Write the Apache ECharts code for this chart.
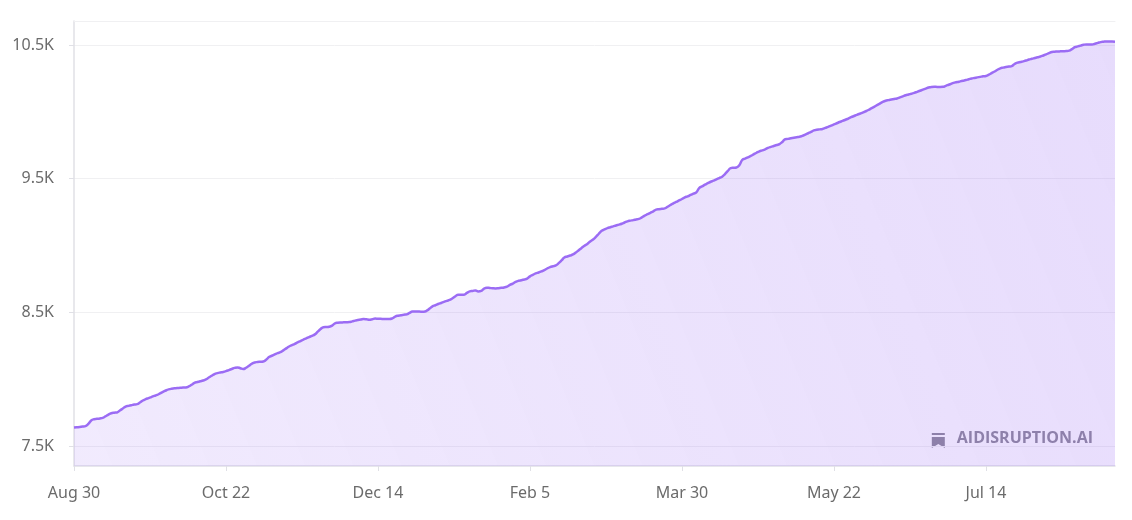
<!DOCTYPE html>
<html>
<head>
<meta charset="utf-8">
<script src="https://cdn.jsdelivr.net/npm/echarts@6/dist/echarts.min.js"></script>
<style>
  html, body { margin: 0; padding: 0; background: #fff; }
  #chart { width: 1132px; height: 520px; }
</style>
</head>
<body>
<div id="chart"></div>
<script>
// daily totals, Aug 30 -> Aug 28 (364 days)
var startDate = [2022, 7, 30];
var dayCount = 364;
var values = [
    7638, 7640, 7642, 7645, 7649, 7665, 7690, 7700, 7703, 7706,
    7710, 7722, 7735, 7745, 7749, 7751, 7765, 7780, 7795, 7800,
    7805, 7810, 7813, 7825, 7840, 7850, 7858, 7866, 7875, 7882,
    7893, 7905, 7915, 7923, 7928, 7931, 7934, 7935, 7937, 7938,
    7945, 7958, 7972, 7978, 7984, 7990, 7998, 8012, 8025, 8038,
    8045, 8050, 8054, 8060, 8068, 8076, 8084, 8088, 8082, 8076,
    8085, 8100, 8115, 8125, 8128, 8130, 8132, 8145, 8165, 8175,
    8185, 8195, 8202, 8215, 8230, 8244, 8254, 8264, 8275, 8285,
    8296, 8305, 8315, 8324, 8335, 8355, 8375, 8388, 8390, 8392,
    8400, 8418, 8422, 8424, 8425, 8426, 8427, 8432, 8438, 8442,
    8446, 8450, 8448, 8444, 8448, 8453, 8452, 8451, 8450, 8450,
    8450, 8455, 8468, 8475, 8478, 8482, 8485, 8495, 8506, 8507,
    8506, 8505, 8505, 8512, 8528, 8545, 8553, 8562, 8570, 8578,
    8586, 8593, 8605, 8620, 8632, 8632, 8632, 8645, 8657, 8660,
    8664, 8656, 8660, 8678, 8684, 8682, 8680, 8679, 8681, 8684,
    8686, 8692, 8705, 8715, 8728, 8736, 8740, 8746, 8752, 8769,
    8780, 8791, 8798, 8806, 8815, 8828, 8838, 8845, 8851, 8868,
    8888, 8910, 8918, 8925, 8933, 8948, 8965, 8982, 8998, 9012,
    9030, 9045, 9065, 9088, 9110, 9120, 9130, 9137, 9143, 9150,
    9156, 9163, 9172, 9181, 9186, 9190, 9195, 9199, 9210, 9224,
    9234, 9245, 9256, 9268, 9272, 9275, 9278, 9290, 9303, 9316,
    9326, 9337, 9348, 9360, 9368, 9378, 9388, 9398, 9430, 9442,
    9455, 9466, 9477, 9485, 9495, 9505, 9515, 9535, 9558, 9579,
    9582, 9584, 9600, 9640, 9650, 9660, 9670, 9682, 9694, 9705,
    9712, 9720, 9730, 9738, 9745, 9752, 9759, 9775, 9795, 9798,
    9802, 9806, 9810, 9814, 9820, 9830, 9840, 9850, 9862, 9866,
    9869, 9872, 9880, 9888, 9897, 9906, 9915, 9924, 9932, 9941,
    9950, 9960, 9969, 9978, 9986, 9995, 10004, 10014, 10026, 10038,
    10050, 10062, 10074, 10083, 10088, 10092, 10096, 10100, 10108, 10116,
    10124, 10130, 10136, 10142, 10150, 10158, 10166, 10174, 10182, 10187,
    10188, 10187, 10187, 10188, 10195, 10203, 10211, 10219, 10223, 10228,
    10233, 10238, 10244, 10250, 10254, 10258, 10262, 10266, 10269, 10278,
    10290, 10302, 10315, 10326, 10331, 10335, 10339, 10343, 10358, 10368,
    10373, 10378, 10384, 10392, 10397, 10403, 10409, 10414, 10422, 10430,
    10440, 10448, 10450, 10452, 10453, 10454, 10455, 10458, 10470, 10484,
    10490, 10496, 10502, 10505, 10505, 10505, 10510, 10516, 10522, 10525,
    10527, 10527, 10526, 10525
];
var yTicks = [7500, 8500, 9500, 10500];
var monthNames = ['Jan', 'Feb', 'Mar', 'Apr', 'May', 'Jun', 'Jul', 'Aug', 'Sep', 'Oct', 'Nov', 'Dec'];

var dates = [];
for (let i = 0; i < dayCount; i++) {
    let d = new Date(startDate[0], startDate[1], startDate[2] + i);
    dates.push(monthNames[d.getMonth()] + ' ' + d.getDate());
}

var labelFont = {
    color: '#6b6b6b',
    fontSize: 16,
    fontFamily: 'Noto Sans'
};

var chart = echarts.init(document.getElementById('chart'), null, { renderer: 'canvas' });
chart.setOption({
    animation: false,
    grid: {
        left: 74,
        right: 17,
        top: 21,
        bottom: 54
    },
    xAxis: [{
        type: 'category',
        data: dates,
        boundaryGap: false,
        axisLine: { lineStyle: { color: '#e0e0e6', width: 1.5 } },
        axisTick: { interval: 52, length: 5, lineStyle: { color: '#e0e0e6' } },
        axisLabel: Object.assign({ interval: 52, margin: 19 }, labelFont),
        splitLine: { show: false }
    }, {
        type: 'category',
        data: dates,
        position: 'top',
        boundaryGap: false,
        axisLine: { lineStyle: { color: '#f0f0f2' } },
        axisTick: { show: false },
        axisLabel: { show: false }
    }],
    yAxis: {
        type: 'value',
        min: 7350,
        max: 10680,
        axisLine: { show: true, lineStyle: { color: '#e0e0e6', width: 1.5 } },
        axisTick: { show: true, length: 5, customValues: yTicks, lineStyle: { color: '#e0e0e6' } },
        axisLabel: Object.assign({
            margin: 20,
            customValues: yTicks,
            formatter: (v) => (v / 1000) + 'K'
        }, labelFont),
        splitLine: { lineStyle: { color: '#f0f0f2' } }
    },
    series: [{
        type: 'line',
        data: values,
        symbol: 'none',
        smooth: true,
        silent: true,
        lineStyle: { color: '#9b6cf4', width: 2.5 },
        areaStyle: {
            color: {
                type: 'linear', x: 1, y: 0, x2: 0, y2: 1,
                colorStops: [
                    { offset: 0, color: 'rgba(155, 108, 244, 0.34)' },
                    { offset: 1, color: 'rgba(155, 108, 244, 0.2)' }
                ]
            }
        }
    }],
    graphic: [{
        type: 'group',
        right: 39,
        bottom: 72,
        children: [{
            type: 'rect',
            shape: { x: 0, y: 0, width: 13, height: 2 },
            style: { fill: '#8a8696' }
        }, {
            type: 'polygon',
            shape: { points: [[0, 4], [13, 4], [13, 15], [6.5, 11], [0, 15]] },
            style: { fill: '#8a8696' }
        }, {
            type: 'text',
            x: 25,
            y: -3,
            style: {
                text: 'AIDISRUPTION.AI',
                fill: '#8a8696',
                font: 'bold 16px "Open Sans"'
            }
        }]
    }]
});
</script>
</body>
</html>
